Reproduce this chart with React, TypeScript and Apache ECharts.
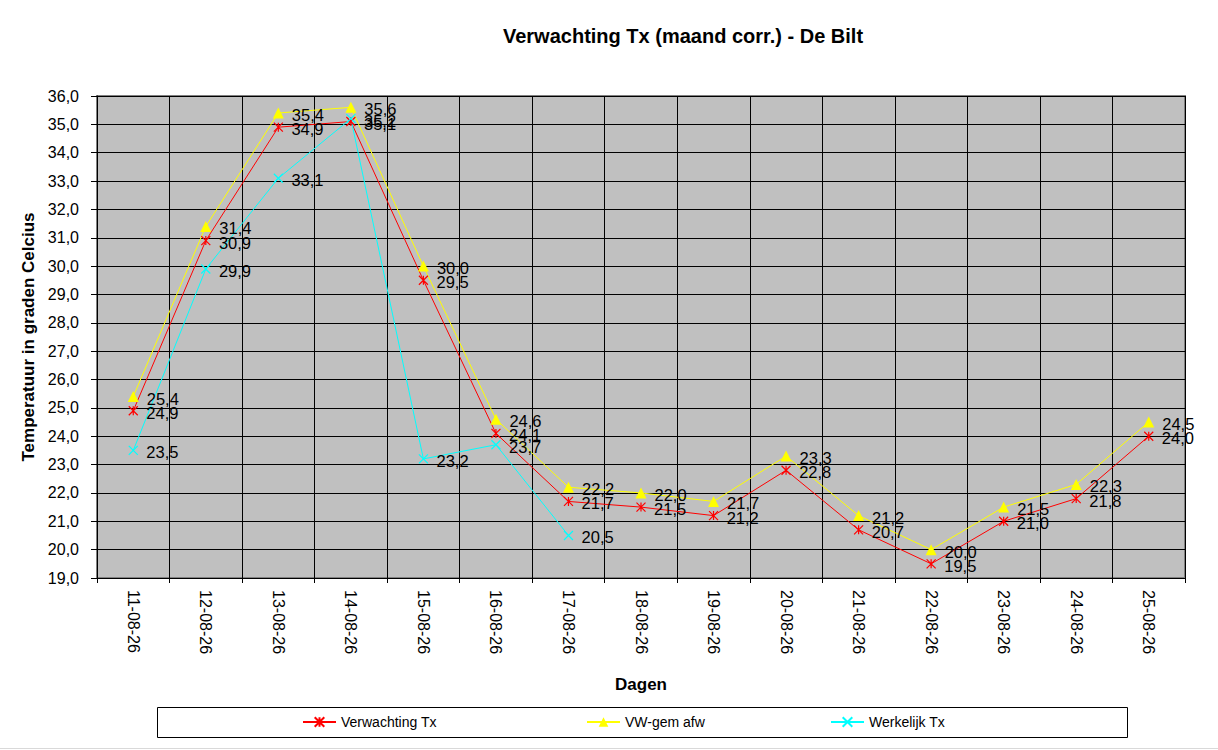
import React, { useEffect, useRef } from "react";
import * as echarts from "echarts";

const categories = [
  "11-08-26", "12-08-26", "13-08-26", "14-08-26", "15-08-26",
  "16-08-26", "17-08-26", "18-08-26", "19-08-26", "20-08-26",
  "21-08-26", "22-08-26", "23-08-26", "24-08-26", "25-08-26",
];
const verwachtingTx = [24.9, 30.9, 34.9, 35.1, 29.5, 24.1, 21.7, 21.5, 21.2, 22.8, 20.7, 19.5, 21.0, 21.8, 24.0];
const vwGemAfw = [25.4, 31.4, 35.4, 35.6, 30.0, 24.6, 22.2, 22.0, 21.7, 23.3, 21.2, 20.0, 21.5, 22.3, 24.5];
const werkelijkTx = [23.5, 29.9, 33.1, 35.2, 23.2, 23.7, 20.5, null, null, null, null, null, null, null, null];

const FONT = "Liberation Sans, Arial, sans-serif";
const fmt = (v: number) => v.toFixed(1).replace(".", ",");

const ASTERISK = "path://M0,0L10,10M10,0L0,10M5,0L5,10";
const XMARK = "path://M0,0L10,10M10,0L0,10";

function makeSeries(name: string, data: (number | null)[], color: string, symbol: string, filled: boolean) {
  return {
    name,
    type: "line",
    data,
    connectNulls: false,
    symbol,
    symbolSize: filled ? 11 : 9,
    showAllSymbol: true,
    lineStyle: { color, width: 1 },
    itemStyle: filled
      ? { color, borderColor: color, borderWidth: 0 }
      : { color: "transparent", borderColor: color, borderWidth: 1.2 },
    label: {
      show: true,
      position: "right",
      distance: 8,
      offset: [0, 2],
      color: "#000",
      fontSize: 16.5,
      fontFamily: FONT,
      formatter: (p: any) => (p.value == null ? "" : fmt(p.value)),
    },
    emphasis: { disabled: true },
  };
}

export default function App() {
  const ref = useRef<HTMLDivElement>(null);
  useEffect(() => {
    if (!ref.current) return;
    const chart = echarts.init(ref.current, undefined, { renderer: "svg" });
    const legendCommon = {
      orient: "horizontal",
      top: 715,
      padding: 0,
      itemWidth: 33,
      itemHeight: 12,
      itemGap: 5,
      textStyle: { fontSize: 14, fontFamily: FONT, color: "#000" },
      selectedMode: false,
    };
    chart.setOption({
      animation: false,
      backgroundColor: "#ffffff",
      textStyle: { fontFamily: FONT },
      title: {
        text: "Verwachting Tx (maand corr.) - De Bilt",
        left: 678,
        top: 21,
        textAlign: "center",
        textStyle: { fontSize: 20, fontWeight: "bold", fontFamily: FONT, color: "#000" },
      },
      graphic: [
        {
          type: "rect",
          shape: { x: 157.5, y: 707.5, width: 970, height: 30 },
          style: { fill: "#fff", stroke: "#000", lineWidth: 1 },
          z: -1,
        },
        {
          type: "line",
          shape: { x1: 0, y1: 748.5, x2: 1218, y2: 748.5 },
          style: { stroke: "#d9d9d9", lineWidth: 1 },
        },
      ],
      legend: [
        { ...legendCommon, left: 302, data: ["Verwachting Tx"] },
        { ...legendCommon, left: 586, data: ["VW-gem afw"] },
        { ...legendCommon, left: 830, data: ["Werkelijk Tx"] },
      ],
      grid: {
        left: 97,
        right: 33,
        top: 96,
        bottom: 172,
        show: true,
        backgroundColor: "#c0c0c0",
        borderColor: "#808080",
        borderWidth: 2,
      },
      xAxis: {
        type: "category",
        data: categories,
        boundaryGap: true,
        name: "Dagen",
        nameLocation: "middle",
        nameGap: 98,
        nameTextStyle: { fontSize: 17, fontWeight: "bold", fontFamily: FONT, color: "#000" },
        axisLine: { show: true, lineStyle: { color: "#000", width: 1 } },
        axisTick: { show: true, length: 5, lineStyle: { color: "#000" } },
        axisLabel: { rotate: -90, margin: 12, fontSize: 16, fontFamily: FONT, color: "#000", interval: 0 },
        splitLine: { show: true, interval: 0, lineStyle: { color: "#000", width: 1 } },
      },
      yAxis: {
        type: "value",
        min: 19,
        max: 36,
        interval: 1,
        name: "Temperatuur in graden Celcius",
        nameLocation: "middle",
        nameGap: 60,
        nameTextStyle: { fontSize: 17, fontWeight: "bold", fontFamily: FONT, color: "#000" },
        axisLine: { show: true, lineStyle: { color: "#000", width: 1 } },
        axisTick: { show: true, length: 6, lineStyle: { color: "#000" } },
        axisLabel: { margin: 18, fontSize: 16, fontFamily: FONT, color: "#000", formatter: (v: number) => fmt(v) },
        splitLine: { show: true, lineStyle: { color: "#000", width: 1 } },
      },
      series: [
        makeSeries("Verwachting Tx", verwachtingTx, "#ff0000", ASTERISK, false),
        makeSeries("VW-gem afw", vwGemAfw, "#ffff00", "triangle", true),
        makeSeries("Werkelijk Tx", werkelijkTx, "#00ffff", XMARK, false),
      ],
    });
    return () => chart.dispose();
  }, []);
  return (
    <div
      ref={ref}
      style={{ position: "absolute", left: 0, top: 0, width: 1218, height: 750 }}
    />
  );
}
